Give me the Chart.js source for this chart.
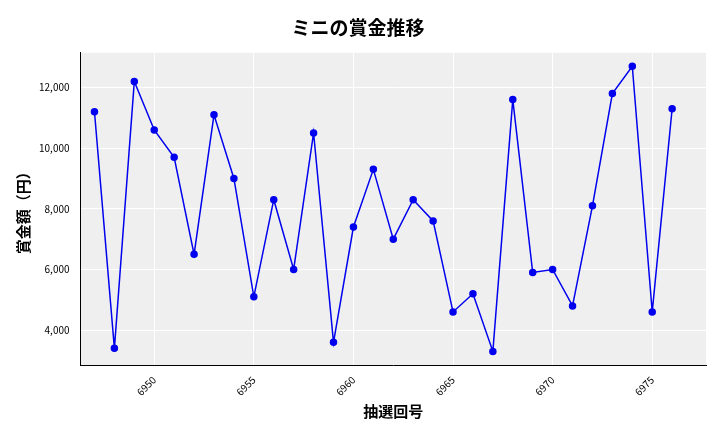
<!DOCTYPE html>
<html><head><meta charset="utf-8">
<script src="https://cdn.jsdelivr.net/npm/chart.js@4"></script>
<style>body{margin:0;background:#fff}#wrap{width:720px;height:432px}</style>
</head><body><div id="wrap"><canvas id="c"></canvas></div>
<script>
const draws = [6947,6948,6949,6950,6951,6952,6953,6954,6955,6956,6957,6958,6959,6960,6961,6962,6963,6964,6965,6966,6967,6968,6969,6970,6971,6972,6973,6974,6975,6976];
const prizes = [11200,3400,12200,10600,9700,6500,11100,9000,5100,8300,6000,10500,3600,7400,9300,7000,8300,7600,4600,5200,3300,11600,5900,6000,4800,8100,11800,12700,4600,11300];

const bg = {id:'bg',beforeDraw(ch){const a=ch.chartArea,x=ch.ctx;x.save();x.fillStyle='#efefef';x.fillRect(a.left,a.top,a.right-a.left,a.bottom-a.top);x.restore();}};
const font = "'Noto Sans CJK JP','Noto Sans',sans-serif";
new Chart(document.getElementById('c'),{
type:'line',
data:{datasets:[{data:draws.map((d,i)=>({x:d,y:prizes[i]})),borderColor:'#0000ee',backgroundColor:'#0000ee',borderWidth:1.5,pointRadius:3,tension:0}]},
options:{responsive:true,maintainAspectRatio:false,animation:false,
layout:{padding:{left:10,right:14,top:10,bottom:8}},
plugins:{legend:{display:false},
title:{display:true,text:'ミニの賞金推移',font:{family:font,size:19,weight:'bold'},color:'#000',padding:{top:6,bottom:14}}},
scales:{
x:{type:'linear',min:6946.3,max:6977.7,
ticks:{stepSize:5,padding:0,callback:v=>v%5===0?String(v):'',minRotation:45,maxRotation:45,font:{family:font,size:10},color:'#000'},
grid:{color:'#fff'},border:{color:'#000'},
title:{display:true,text:'抽選回号',font:{family:font,size:15,weight:'bold'},color:'#000'}},
y:{min:2824,max:13143,
ticks:{stepSize:2000,callback:v=>v%2000===0?v.toLocaleString('en-US'):'',font:{family:font,size:10},color:'#000'},
afterBuildTicks(s){s.ticks=[4000,6000,8000,10000,12000].map(v=>({value:v}));},
grid:{color:'#fff'},border:{color:'#000'},
title:{display:true,text:'賞金額（円）',font:{family:font,size:15,weight:'bold'},color:'#000'}}
}},
plugins:[bg]});
</script></body></html>
